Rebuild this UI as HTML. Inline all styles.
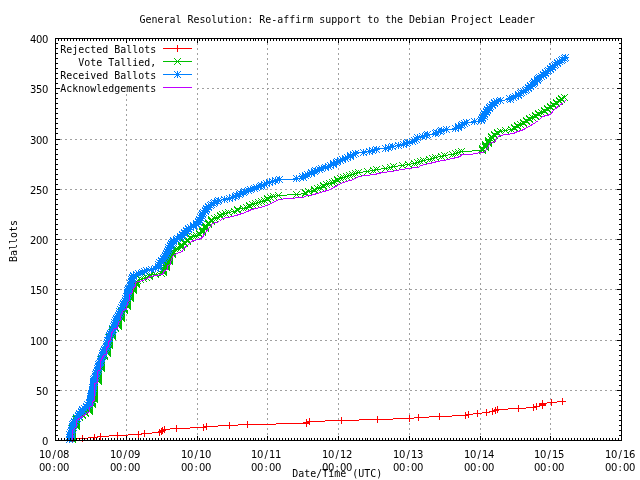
<!DOCTYPE html>
<html lang="en">
<head>
<meta charset="utf-8">
<title>General Resolution: Re-affirm support to the Debian Project Leader</title>
<style>
html,body{margin:0;padding:0;background:#fff;}
body{width:640px;height:480px;overflow:hidden;}
svg{display:block;}
text.n{font-family:'DejaVu Sans','Liberation Sans',sans-serif;}
</style>
</head>
<body>
<svg width="640" height="480" viewBox="0 0 640 480">
<rect width="640" height="480" fill="#fff"/>
<g stroke="#a0a0a0" stroke-width="1" shape-rendering="crispEdges" stroke-dasharray="2 3" fill="none">
<path d="M55 390.5H621"/>
<path d="M55 340.5H621"/>
<path d="M55 289.5H621"/>
<path d="M55 239.5H621"/>
<path d="M55 189.5H621"/>
<path d="M55 139.5H621"/>
<path d="M197 88.5H621"/>
<path d="M126.5 94V441"/>
<path d="M197.5 38V441"/>
<path d="M267.5 38V441"/>
<path d="M338.5 38V441"/>
<path d="M409.5 38V441"/>
<path d="M480.5 38V441"/>
<path d="M550.5 38V441"/>
</g>
<g fill="none" stroke-width="1" shape-rendering="crispEdges">
<path stroke="#ff0000" d="M72.5 439.5 L82.5 438.5 L94.5 437.5 L100.5 436.5 L117.5 435.5 L138.5 434.5 L144.5 433.5 L159.5 432.5 L161.5 431.5 L162.5 430.5 L164.5 429.5 L176.5 428.5 L203.5 427.5 L206.5 426.5 L229.5 425.5 L247.5 424.5 L306.5 423.5 L306.5 422.5 L309.5 421.5 L341.5 420.5 L377.5 419.5 L409.5 418.5 L418.5 417.5 L439.5 416.5 L465.5 415.5 L468.5 414.5 L477.5 413.5 L486.5 412.5 L492.5 411.5 L495.5 410.5 L497.5 409.5 L518.5 408.5 L533.5 407.5 L536.5 406.5 L542.5 405.5 L542.5 404.5 L542.5 403.5 L551.5 402.5 L562.5 401.5"/>
<path stroke="#ff0000" d="M69 439.5h7M72.5 436v7M79 438.5h7M82.5 435v7M91 437.5h7M94.5 434v7M97 436.5h7M100.5 433v7M114 435.5h7M117.5 432v7M135 434.5h7M138.5 431v7M141 433.5h7M144.5 430v7M156 432.5h7M159.5 429v7M158 431.5h7M161.5 428v7M159 430.5h7M162.5 427v7M161 429.5h7M164.5 426v7M173 428.5h7M176.5 425v7M200 427.5h7M203.5 424v7M203 426.5h7M206.5 423v7M226 425.5h7M229.5 422v7M244 424.5h7M247.5 421v7M303 423.5h7M306.5 420v7M303 422.5h7M306.5 419v7M306 421.5h7M309.5 418v7M338 420.5h7M341.5 417v7M374 419.5h7M377.5 416v7M406 418.5h7M409.5 415v7M415 417.5h7M418.5 414v7M436 416.5h7M439.5 413v7M462 415.5h7M465.5 412v7M465 414.5h7M468.5 411v7M474 413.5h7M477.5 410v7M483 412.5h7M486.5 409v7M489 411.5h7M492.5 408v7M492 410.5h7M495.5 407v7M494 409.5h7M497.5 406v7M515 408.5h7M518.5 405v7M530 407.5h7M533.5 404v7M533 406.5h7M536.5 403v7M539 405.5h7M542.5 402v7M539 404.5h7M542.5 401v7M539 403.5h7M542.5 400v7M548 402.5h7M551.5 399v7M559 401.5h7M562.5 398v7"/>
<path stroke="#00c000" d="M72.5 439.5 L72.5 438.5 L72.5 437.5 L72.5 436.5 L72.5 435.5 L72.5 434.5 L72.5 433.5 L72.5 432.5 L72.5 431.5 L72.5 430.5 L72.5 429.5 L72.5 428.5 L72.5 427.5 L76.5 426.5 L76.5 425.5 L76.5 424.5 L76.5 423.5 L76.5 422.5 L76.5 421.5 L76.5 420.5 L76.5 419.5 L76.5 418.5 L79.5 417.5 L79.5 416.5 L82.5 415.5 L82.5 414.5 L85.5 413.5 L85.5 412.5 L89.5 411.5 L89.5 410.5 L89.5 409.5 L89.5 408.5 L89.5 407.5 L89.5 406.5 L89.5 405.5 L92.5 404.5 L92.5 403.5 L92.5 402.5 L92.5 401.5 L92.5 400.5 L94.5 399.5 L94.5 398.5 L94.5 397.5 L94.5 396.5 L94.5 395.5 L94.5 394.5 L94.5 393.5 L94.5 392.5 L94.5 391.5 L94.5 390.5 L94.5 389.5 L94.5 388.5 L94.5 387.5 L94.5 386.5 L94.5 385.5 L94.5 384.5 L94.5 383.5 L94.5 382.5 L98.5 381.5 L98.5 380.5 L98.5 379.5 L98.5 378.5 L98.5 377.5 L98.5 376.5 L98.5 375.5 L98.5 374.5 L98.5 373.5 L98.5 372.5 L98.5 371.5 L98.5 370.5 L98.5 369.5 L101.5 368.5 L101.5 367.5 L101.5 366.5 L101.5 365.5 L101.5 364.5 L101.5 363.5 L101.5 362.5 L101.5 361.5 L101.5 360.5 L101.5 359.5 L101.5 358.5 L101.5 357.5 L104.5 356.5 L104.5 355.5 L104.5 354.5 L107.5 353.5 L107.5 352.5 L107.5 351.5 L107.5 350.5 L107.5 349.5 L107.5 348.5 L107.5 347.5 L107.5 346.5 L109.5 345.5 L109.5 344.5 L109.5 343.5 L109.5 342.5 L109.5 341.5 L109.5 340.5 L109.5 338.5 L109.5 337.5 L112.5 336.5 L112.5 335.5 L112.5 334.5 L112.5 333.5 L112.5 332.5 L112.5 331.5 L112.5 330.5 L112.5 329.5 L115.5 328.5 L115.5 327.5 L118.5 326.5 L118.5 325.5 L118.5 324.5 L118.5 323.5 L118.5 322.5 L118.5 321.5 L118.5 320.5 L118.5 319.5 L121.5 318.5 L121.5 317.5 L121.5 316.5 L121.5 315.5 L121.5 314.5 L121.5 313.5 L121.5 312.5 L121.5 311.5 L124.5 310.5 L124.5 309.5 L124.5 308.5 L124.5 307.5 L127.5 306.5 L127.5 305.5 L127.5 304.5 L127.5 303.5 L127.5 302.5 L127.5 301.5 L127.5 300.5 L127.5 299.5 L130.5 298.5 L130.5 297.5 L130.5 296.5 L130.5 295.5 L130.5 294.5 L130.5 293.5 L130.5 292.5 L130.5 291.5 L133.5 290.5 L133.5 289.5 L133.5 288.5 L133.5 287.5 L133.5 286.5 L133.5 285.5 L136.5 284.5 L136.5 283.5 L136.5 282.5 L136.5 281.5 L137.5 280.5 L140.5 279.5 L143.5 278.5 L146.5 277.5 L149.5 276.5 L149.5 275.5 L155.5 274.5 L161.5 273.5 L163.5 272.5 L163.5 271.5 L163.5 270.5 L163.5 269.5 L163.5 268.5 L166.5 267.5 L166.5 266.5 L166.5 265.5 L166.5 264.5 L166.5 263.5 L166.5 262.5 L169.5 261.5 L169.5 260.5 L169.5 259.5 L169.5 258.5 L169.5 257.5 L169.5 256.5 L169.5 255.5 L172.5 254.5 L172.5 253.5 L172.5 252.5 L172.5 251.5 L172.5 250.5 L175.5 249.5 L178.5 248.5 L181.5 247.5 L181.5 246.5 L181.5 245.5 L181.5 244.5 L184.5 243.5 L184.5 242.5 L187.5 241.5 L187.5 240.5 L187.5 239.5 L190.5 238.5 L190.5 237.5 L193.5 236.5 L196.5 235.5 L199.5 234.5 L199.5 233.5 L202.5 232.5 L202.5 231.5 L202.5 230.5 L202.5 229.5 L205.5 228.5 L205.5 227.5 L205.5 226.5 L205.5 225.5 L208.5 224.5 L208.5 223.5 L208.5 222.5 L211.5 221.5 L211.5 220.5 L211.5 219.5 L214.5 218.5 L217.5 217.5 L220.5 216.5 L220.5 215.5 L222.5 214.5 L225.5 213.5 L228.5 212.5 L234.5 211.5 L237.5 210.5 L237.5 209.5 L243.5 208.5 L246.5 207.5 L249.5 206.5 L249.5 205.5 L252.5 204.5 L255.5 203.5 L258.5 202.5 L261.5 201.5 L264.5 200.5 L267.5 199.5 L267.5 198.5 L270.5 197.5 L273.5 196.5 L278.5 195.5 L296.5 194.5 L305.5 193.5 L305.5 192.5 L308.5 191.5 L314.5 190.5 L314.5 189.5 L317.5 188.5 L320.5 187.5 L323.5 186.5 L323.5 185.5 L326.5 184.5 L329.5 183.5 L332.5 182.5 L334.5 181.5 L337.5 180.5 L337.5 179.5 L340.5 178.5 L343.5 177.5 L346.5 176.5 L349.5 175.5 L352.5 174.5 L355.5 173.5 L358.5 172.5 L367.5 171.5 L373.5 170.5 L376.5 169.5 L385.5 168.5 L390.5 167.5 L393.5 166.5 L402.5 165.5 L408.5 164.5 L414.5 163.5 L417.5 162.5 L420.5 161.5 L423.5 160.5 L429.5 159.5 L432.5 158.5 L435.5 157.5 L441.5 156.5 L444.5 155.5 L452.5 154.5 L455.5 153.5 L458.5 152.5 L461.5 151.5 L482.5 150.5 L482.5 149.5 L482.5 148.5 L485.5 147.5 L485.5 146.5 L485.5 145.5 L485.5 144.5 L488.5 143.5 L488.5 142.5 L488.5 141.5 L488.5 140.5 L491.5 139.5 L491.5 137.5 L491.5 136.5 L494.5 135.5 L494.5 134.5 L497.5 133.5 L497.5 132.5 L500.5 131.5 L505.5 130.5 L511.5 129.5 L514.5 128.5 L514.5 127.5 L517.5 126.5 L517.5 125.5 L520.5 124.5 L523.5 123.5 L523.5 122.5 L526.5 121.5 L526.5 120.5 L529.5 119.5 L529.5 118.5 L532.5 117.5 L535.5 116.5 L535.5 115.5 L538.5 114.5 L538.5 113.5 L541.5 112.5 L544.5 111.5 L544.5 110.5 L547.5 109.5 L547.5 108.5 L550.5 107.5 L550.5 106.5 L553.5 105.5 L553.5 104.5 L556.5 103.5 L556.5 102.5 L559.5 101.5 L559.5 100.5 L561.5 99.5 L561.5 98.5 L564.5 97.5"/>
<path stroke="#00c000" d="M69 436l7 7M69 443l7 -7M69 435l7 7M69 442l7 -7M69 434l7 7M69 441l7 -7M69 433l7 7M69 440l7 -7M69 432l7 7M69 439l7 -7M69 431l7 7M69 438l7 -7M69 430l7 7M69 437l7 -7M69 429l7 7M69 436l7 -7M69 428l7 7M69 435l7 -7M69 427l7 7M69 434l7 -7M69 426l7 7M69 433l7 -7M69 425l7 7M69 432l7 -7M69 424l7 7M69 431l7 -7M73 423l7 7M73 430l7 -7M73 422l7 7M73 429l7 -7M73 421l7 7M73 428l7 -7M73 420l7 7M73 427l7 -7M73 419l7 7M73 426l7 -7M73 418l7 7M73 425l7 -7M73 417l7 7M73 424l7 -7M73 416l7 7M73 423l7 -7M73 415l7 7M73 422l7 -7M76 414l7 7M76 421l7 -7M76 413l7 7M76 420l7 -7M79 412l7 7M79 419l7 -7M79 411l7 7M79 418l7 -7M82 410l7 7M82 417l7 -7M82 409l7 7M82 416l7 -7M86 408l7 7M86 415l7 -7M86 407l7 7M86 414l7 -7M86 406l7 7M86 413l7 -7M86 405l7 7M86 412l7 -7M86 404l7 7M86 411l7 -7M86 403l7 7M86 410l7 -7M86 402l7 7M86 409l7 -7M89 401l7 7M89 408l7 -7M89 400l7 7M89 407l7 -7M89 399l7 7M89 406l7 -7M89 398l7 7M89 405l7 -7M89 397l7 7M89 404l7 -7M91 396l7 7M91 403l7 -7M91 395l7 7M91 402l7 -7M91 394l7 7M91 401l7 -7M91 393l7 7M91 400l7 -7M91 392l7 7M91 399l7 -7M91 391l7 7M91 398l7 -7M91 390l7 7M91 397l7 -7M91 389l7 7M91 396l7 -7M91 388l7 7M91 395l7 -7M91 387l7 7M91 394l7 -7M91 386l7 7M91 393l7 -7M91 385l7 7M91 392l7 -7M91 384l7 7M91 391l7 -7M91 383l7 7M91 390l7 -7M91 382l7 7M91 389l7 -7M91 381l7 7M91 388l7 -7M91 380l7 7M91 387l7 -7M91 379l7 7M91 386l7 -7M95 378l7 7M95 385l7 -7M95 377l7 7M95 384l7 -7M95 376l7 7M95 383l7 -7M95 375l7 7M95 382l7 -7M95 374l7 7M95 381l7 -7M95 373l7 7M95 380l7 -7M95 372l7 7M95 379l7 -7M95 371l7 7M95 378l7 -7M95 370l7 7M95 377l7 -7M95 369l7 7M95 376l7 -7M95 368l7 7M95 375l7 -7M95 367l7 7M95 374l7 -7M95 366l7 7M95 373l7 -7M98 365l7 7M98 372l7 -7M98 364l7 7M98 371l7 -7M98 363l7 7M98 370l7 -7M98 362l7 7M98 369l7 -7M98 361l7 7M98 368l7 -7M98 360l7 7M98 367l7 -7M98 359l7 7M98 366l7 -7M98 358l7 7M98 365l7 -7M98 357l7 7M98 364l7 -7M98 356l7 7M98 363l7 -7M98 355l7 7M98 362l7 -7M98 354l7 7M98 361l7 -7M101 353l7 7M101 360l7 -7M101 352l7 7M101 359l7 -7M101 351l7 7M101 358l7 -7M104 350l7 7M104 357l7 -7M104 349l7 7M104 356l7 -7M104 348l7 7M104 355l7 -7M104 347l7 7M104 354l7 -7M104 346l7 7M104 353l7 -7M104 345l7 7M104 352l7 -7M104 344l7 7M104 351l7 -7M104 343l7 7M104 350l7 -7M106 342l7 7M106 349l7 -7M106 341l7 7M106 348l7 -7M106 340l7 7M106 347l7 -7M106 339l7 7M106 346l7 -7M106 338l7 7M106 345l7 -7M106 337l7 7M106 344l7 -7M106 335l7 7M106 342l7 -7M106 334l7 7M106 341l7 -7M109 333l7 7M109 340l7 -7M109 332l7 7M109 339l7 -7M109 331l7 7M109 338l7 -7M109 330l7 7M109 337l7 -7M109 329l7 7M109 336l7 -7M109 328l7 7M109 335l7 -7M109 327l7 7M109 334l7 -7M109 326l7 7M109 333l7 -7M112 325l7 7M112 332l7 -7M112 324l7 7M112 331l7 -7M115 323l7 7M115 330l7 -7M115 322l7 7M115 329l7 -7M115 321l7 7M115 328l7 -7M115 320l7 7M115 327l7 -7M115 319l7 7M115 326l7 -7M115 318l7 7M115 325l7 -7M115 317l7 7M115 324l7 -7M115 316l7 7M115 323l7 -7M118 315l7 7M118 322l7 -7M118 314l7 7M118 321l7 -7M118 313l7 7M118 320l7 -7M118 312l7 7M118 319l7 -7M118 311l7 7M118 318l7 -7M118 310l7 7M118 317l7 -7M118 309l7 7M118 316l7 -7M118 308l7 7M118 315l7 -7M121 307l7 7M121 314l7 -7M121 306l7 7M121 313l7 -7M121 305l7 7M121 312l7 -7M121 304l7 7M121 311l7 -7M124 303l7 7M124 310l7 -7M124 302l7 7M124 309l7 -7M124 301l7 7M124 308l7 -7M124 300l7 7M124 307l7 -7M124 299l7 7M124 306l7 -7M124 298l7 7M124 305l7 -7M124 297l7 7M124 304l7 -7M124 296l7 7M124 303l7 -7M127 295l7 7M127 302l7 -7M127 294l7 7M127 301l7 -7M127 293l7 7M127 300l7 -7M127 292l7 7M127 299l7 -7M127 291l7 7M127 298l7 -7M127 290l7 7M127 297l7 -7M127 289l7 7M127 296l7 -7M127 288l7 7M127 295l7 -7M130 287l7 7M130 294l7 -7M130 286l7 7M130 293l7 -7M130 285l7 7M130 292l7 -7M130 284l7 7M130 291l7 -7M130 283l7 7M130 290l7 -7M130 282l7 7M130 289l7 -7M133 281l7 7M133 288l7 -7M133 280l7 7M133 287l7 -7M133 279l7 7M133 286l7 -7M133 278l7 7M133 285l7 -7M134 277l7 7M134 284l7 -7M137 276l7 7M137 283l7 -7M140 275l7 7M140 282l7 -7M143 274l7 7M143 281l7 -7M146 273l7 7M146 280l7 -7M146 272l7 7M146 279l7 -7M152 271l7 7M152 278l7 -7M158 270l7 7M158 277l7 -7M160 269l7 7M160 276l7 -7M160 268l7 7M160 275l7 -7M160 267l7 7M160 274l7 -7M160 266l7 7M160 273l7 -7M160 265l7 7M160 272l7 -7M163 264l7 7M163 271l7 -7M163 263l7 7M163 270l7 -7M163 262l7 7M163 269l7 -7M163 261l7 7M163 268l7 -7M163 260l7 7M163 267l7 -7M163 259l7 7M163 266l7 -7M166 258l7 7M166 265l7 -7M166 257l7 7M166 264l7 -7M166 256l7 7M166 263l7 -7M166 255l7 7M166 262l7 -7M166 254l7 7M166 261l7 -7M166 253l7 7M166 260l7 -7M166 252l7 7M166 259l7 -7M169 251l7 7M169 258l7 -7M169 250l7 7M169 257l7 -7M169 249l7 7M169 256l7 -7M169 248l7 7M169 255l7 -7M169 247l7 7M169 254l7 -7M172 246l7 7M172 253l7 -7M175 245l7 7M175 252l7 -7M178 244l7 7M178 251l7 -7M178 243l7 7M178 250l7 -7M178 242l7 7M178 249l7 -7M178 241l7 7M178 248l7 -7M181 240l7 7M181 247l7 -7M181 239l7 7M181 246l7 -7M184 238l7 7M184 245l7 -7M184 237l7 7M184 244l7 -7M184 236l7 7M184 243l7 -7M187 235l7 7M187 242l7 -7M187 234l7 7M187 241l7 -7M190 233l7 7M190 240l7 -7M193 232l7 7M193 239l7 -7M196 231l7 7M196 238l7 -7M196 230l7 7M196 237l7 -7M199 229l7 7M199 236l7 -7M199 228l7 7M199 235l7 -7M199 227l7 7M199 234l7 -7M199 226l7 7M199 233l7 -7M202 225l7 7M202 232l7 -7M202 224l7 7M202 231l7 -7M202 223l7 7M202 230l7 -7M202 222l7 7M202 229l7 -7M205 221l7 7M205 228l7 -7M205 220l7 7M205 227l7 -7M205 219l7 7M205 226l7 -7M208 218l7 7M208 225l7 -7M208 217l7 7M208 224l7 -7M208 216l7 7M208 223l7 -7M211 215l7 7M211 222l7 -7M214 214l7 7M214 221l7 -7M217 213l7 7M217 220l7 -7M217 212l7 7M217 219l7 -7M219 211l7 7M219 218l7 -7M222 210l7 7M222 217l7 -7M225 209l7 7M225 216l7 -7M231 208l7 7M231 215l7 -7M234 207l7 7M234 214l7 -7M234 206l7 7M234 213l7 -7M240 205l7 7M240 212l7 -7M243 204l7 7M243 211l7 -7M246 203l7 7M246 210l7 -7M246 202l7 7M246 209l7 -7M249 201l7 7M249 208l7 -7M252 200l7 7M252 207l7 -7M255 199l7 7M255 206l7 -7M258 198l7 7M258 205l7 -7M261 197l7 7M261 204l7 -7M264 196l7 7M264 203l7 -7M264 195l7 7M264 202l7 -7M267 194l7 7M267 201l7 -7M270 193l7 7M270 200l7 -7M275 192l7 7M275 199l7 -7M293 191l7 7M293 198l7 -7M302 190l7 7M302 197l7 -7M302 189l7 7M302 196l7 -7M305 188l7 7M305 195l7 -7M311 187l7 7M311 194l7 -7M311 186l7 7M311 193l7 -7M314 185l7 7M314 192l7 -7M317 184l7 7M317 191l7 -7M320 183l7 7M320 190l7 -7M320 182l7 7M320 189l7 -7M323 181l7 7M323 188l7 -7M326 180l7 7M326 187l7 -7M329 179l7 7M329 186l7 -7M331 178l7 7M331 185l7 -7M334 177l7 7M334 184l7 -7M334 176l7 7M334 183l7 -7M337 175l7 7M337 182l7 -7M340 174l7 7M340 181l7 -7M343 173l7 7M343 180l7 -7M346 172l7 7M346 179l7 -7M349 171l7 7M349 178l7 -7M352 170l7 7M352 177l7 -7M355 169l7 7M355 176l7 -7M364 168l7 7M364 175l7 -7M370 167l7 7M370 174l7 -7M373 166l7 7M373 173l7 -7M382 165l7 7M382 172l7 -7M387 164l7 7M387 171l7 -7M390 163l7 7M390 170l7 -7M399 162l7 7M399 169l7 -7M405 161l7 7M405 168l7 -7M411 160l7 7M411 167l7 -7M414 159l7 7M414 166l7 -7M417 158l7 7M417 165l7 -7M420 157l7 7M420 164l7 -7M426 156l7 7M426 163l7 -7M429 155l7 7M429 162l7 -7M432 154l7 7M432 161l7 -7M438 153l7 7M438 160l7 -7M441 152l7 7M441 159l7 -7M449 151l7 7M449 158l7 -7M452 150l7 7M452 157l7 -7M455 149l7 7M455 156l7 -7M458 148l7 7M458 155l7 -7M479 147l7 7M479 154l7 -7M479 146l7 7M479 153l7 -7M479 145l7 7M479 152l7 -7M482 144l7 7M482 151l7 -7M482 143l7 7M482 150l7 -7M482 142l7 7M482 149l7 -7M482 141l7 7M482 148l7 -7M485 140l7 7M485 147l7 -7M485 139l7 7M485 146l7 -7M485 138l7 7M485 145l7 -7M485 137l7 7M485 144l7 -7M488 136l7 7M488 143l7 -7M488 134l7 7M488 141l7 -7M488 133l7 7M488 140l7 -7M491 132l7 7M491 139l7 -7M491 131l7 7M491 138l7 -7M494 130l7 7M494 137l7 -7M494 129l7 7M494 136l7 -7M497 128l7 7M497 135l7 -7M502 127l7 7M502 134l7 -7M508 126l7 7M508 133l7 -7M511 125l7 7M511 132l7 -7M511 124l7 7M511 131l7 -7M514 123l7 7M514 130l7 -7M514 122l7 7M514 129l7 -7M517 121l7 7M517 128l7 -7M520 120l7 7M520 127l7 -7M520 119l7 7M520 126l7 -7M523 118l7 7M523 125l7 -7M523 117l7 7M523 124l7 -7M526 116l7 7M526 123l7 -7M526 115l7 7M526 122l7 -7M529 114l7 7M529 121l7 -7M532 113l7 7M532 120l7 -7M532 112l7 7M532 119l7 -7M535 111l7 7M535 118l7 -7M535 110l7 7M535 117l7 -7M538 109l7 7M538 116l7 -7M541 108l7 7M541 115l7 -7M541 107l7 7M541 114l7 -7M544 106l7 7M544 113l7 -7M544 105l7 7M544 112l7 -7M547 104l7 7M547 111l7 -7M547 103l7 7M547 110l7 -7M550 102l7 7M550 109l7 -7M550 101l7 7M550 108l7 -7M553 100l7 7M553 107l7 -7M553 99l7 7M553 106l7 -7M556 98l7 7M556 105l7 -7M556 97l7 7M556 104l7 -7M558 96l7 7M558 103l7 -7M558 95l7 7M558 102l7 -7M561 94l7 7M561 101l7 -7"/>
<path stroke="#0080ff" d="M70.5 440.5 L70.5 433.5 L72.5 428.5 L74.5 422.5 L76.5 418.5 L79.5 414.5 L82.5 410.5 L86.5 406.5 L89.5 402.5 L91.5 400.5 L92.5 390.5 L93.5 387.5 L94.5 379.5 L95.5 374.5 L97.5 370.5 L100.5 359.5 L105.5 348.5 L108.5 340.5 L116.5 320.5 L125.5 300.5 L130.5 283.5 L133.5 276.5 L141.5 273.5 L147.5 270.5 L153.5 269.5 L157.5 268.5 L159.5 264.5 L161.5 261.5 L164.5 258.5 L169.5 246.5 L173.5 240.5 L178.5 238.5 L182.5 234.5 L189.5 228.5 L196.5 223.5 L200.5 218.5 L204.5 211.5 L207.5 208.5 L209.5 205.5 L213.5 202.5 L219.5 200.5 L225.5 199.5 L230.5 198.5 L236.5 195.5 L241.5 192.5 L247.5 190.5 L255.5 188.5 L261.5 185.5 L266.5 183.5 L272.5 180.5 L279.5 179.5 L296.5 179.5 L296.5 178.5 L301.5 178.5 L302.5 176.5 L306.5 174.5 L310.5 173.5 L314.5 170.5 L320.5 168.5 L325.5 167.5 L331.5 164.5 L336.5 161.5 L342.5 159.5 L346.5 157.5 L351.5 154.5 L356.5 152.5 L360.5 152.5 L367.5 151.5 L369.5 151.5 L378.5 148.5 L385.5 148.5 L386.5 147.5 L398.5 145.5 L401.5 144.5 L403.5 144.5 L408.5 141.5 L414.5 140.5 L419.5 137.5 L423.5 136.5 L426.5 135.5 L430.5 134.5 L434.5 134.5 L437.5 132.5 L443.5 130.5 L447.5 129.5 L453.5 129.5 L456.5 128.5 L460.5 125.5 L465.5 123.5 L468.5 122.5 L472.5 122.5 L474.5 121.5 L480.5 121.5 L481.5 120.5 L485.5 113.5 L490.5 107.5 L495.5 101.5 L500.5 100.5 L501.5 100.5 L509.5 99.5 L510.5 98.5 L515.5 97.5 L520.5 94.5 L525.5 90.5 L530.5 86.5 L535.5 82.5 L540.5 77.5 L545.5 73.5 L550.5 69.5 L555.5 65.5 L560.5 61.5 L565.5 57.5"/>
<path stroke="#0080ff" d="M66 439.5h7M69.5 436v7M66 436l7 7M66 443l7 -7M67 438.5h7M70.5 435v7M67 435l7 7M67 442l7 -7M68 437.5h7M71.5 434v7M68 434l7 7M68 441l7 -7M67 436.5h7M70.5 433v7M67 433l7 7M67 440l7 -7M68 435.5h7M71.5 432v7M68 432l7 7M68 439l7 -7M66 434.5h7M69.5 431v7M66 431l7 7M66 438l7 -7M68 433.5h7M71.5 430v7M68 430l7 7M68 437l7 -7M67 432.5h7M70.5 429v7M67 429l7 7M67 436l7 -7M68 431.5h7M71.5 428v7M68 428l7 7M68 435l7 -7M68 430.5h7M71.5 427v7M68 427l7 7M68 434l7 -7M69 429.5h7M72.5 426v7M69 426l7 7M69 433l7 -7M68 428.5h7M71.5 425v7M68 425l7 7M68 432l7 -7M70 427.5h7M73.5 424v7M70 424l7 7M70 431l7 -7M69 426.5h7M72.5 423v7M69 423l7 7M69 430l7 -7M70 425.5h7M73.5 422v7M70 422l7 7M70 429l7 -7M69 424.5h7M72.5 421v7M69 421l7 7M69 428l7 -7M70 423.5h7M73.5 420v7M70 420l7 7M70 427l7 -7M71 422.5h7M74.5 419v7M71 419l7 7M71 426l7 -7M71 421.5h7M74.5 418v7M71 418l7 7M71 425l7 -7M73 420.5h7M76.5 417v7M73 417l7 7M73 424l7 -7M72 419.5h7M75.5 416v7M72 416l7 7M72 423l7 -7M74 418.5h7M77.5 415v7M74 415l7 7M74 422l7 -7M73 417.5h7M76.5 414v7M73 414l7 7M73 421l7 -7M75 416.5h7M78.5 413v7M75 413l7 7M75 420l7 -7M75 415.5h7M78.5 412v7M75 412l7 7M75 419l7 -7M76 414.5h7M79.5 411v7M76 411l7 7M76 418l7 -7M76 413.5h7M79.5 410v7M76 410l7 7M76 417l7 -7M78 412.5h7M81.5 409v7M78 409l7 7M78 416l7 -7M78 411.5h7M81.5 408v7M78 408l7 7M78 415l7 -7M79 410.5h7M82.5 407v7M79 407l7 7M79 414l7 -7M79 409.5h7M82.5 406v7M79 406l7 7M79 413l7 -7M81 408.5h7M84.5 405v7M81 405l7 7M81 412l7 -7M83 407.5h7M86.5 404v7M83 404l7 7M83 411l7 -7M83 406.5h7M86.5 403v7M83 403l7 7M83 410l7 -7M85 405.5h7M88.5 402v7M85 402l7 7M85 409l7 -7M84 404.5h7M87.5 401v7M84 401l7 7M84 408l7 -7M86 403.5h7M89.5 400v7M86 400l7 7M86 407l7 -7M86 402.5h7M89.5 399v7M86 399l7 7M86 406l7 -7M87 401.5h7M90.5 398v7M87 398l7 7M87 405l7 -7M87 400.5h7M90.5 397v7M87 397l7 7M87 404l7 -7M88 399.5h7M91.5 396v7M88 396l7 7M88 403l7 -7M87 398.5h7M90.5 395v7M87 395l7 7M87 402l7 -7M88 397.5h7M91.5 394v7M88 394l7 7M88 401l7 -7M87 396.5h7M90.5 393v7M87 393l7 7M87 400l7 -7M88 395.5h7M91.5 392v7M88 392l7 7M88 399l7 -7M88 394.5h7M91.5 391v7M88 391l7 7M88 398l7 -7M88 393.5h7M91.5 390v7M88 390l7 7M88 397l7 -7M89 392.5h7M92.5 389v7M89 389l7 7M89 396l7 -7M89 391.5h7M92.5 388v7M89 388l7 7M89 395l7 -7M89 390.5h7M92.5 387v7M89 387l7 7M89 394l7 -7M89 389.5h7M92.5 386v7M89 386l7 7M89 393l7 -7M90 388.5h7M93.5 385v7M90 385l7 7M90 392l7 -7M89 387.5h7M92.5 384v7M89 384l7 7M89 391l7 -7M90 386.5h7M93.5 383v7M90 383l7 7M90 390l7 -7M90 385.5h7M93.5 382v7M90 382l7 7M90 389l7 -7M90 384.5h7M93.5 381v7M90 381l7 7M90 388l7 -7M90 383.5h7M93.5 380v7M90 380l7 7M90 387l7 -7M91 382.5h7M94.5 379v7M91 379l7 7M91 386l7 -7M90 381.5h7M93.5 378v7M90 378l7 7M90 385l7 -7M91 380.5h7M94.5 377v7M91 377l7 7M91 384l7 -7M90 379.5h7M93.5 376v7M90 376l7 7M90 383l7 -7M91 378.5h7M94.5 375v7M91 375l7 7M91 382l7 -7M92 377.5h7M95.5 374v7M92 374l7 7M92 381l7 -7M92 376.5h7M95.5 373v7M92 373l7 7M92 380l7 -7M93 375.5h7M96.5 372v7M93 372l7 7M93 379l7 -7M92 374.5h7M95.5 371v7M92 371l7 7M92 378l7 -7M93 373.5h7M96.5 370v7M93 370l7 7M93 377l7 -7M93 372.5h7M96.5 369v7M93 369l7 7M93 376l7 -7M94 371.5h7M97.5 368v7M94 368l7 7M94 375l7 -7M94 370.5h7M97.5 367v7M94 367l7 7M94 374l7 -7M95 369.5h7M98.5 366v7M95 366l7 7M95 373l7 -7M94 368.5h7M97.5 365v7M94 365l7 7M94 372l7 -7M95 367.5h7M98.5 364v7M95 364l7 7M95 371l7 -7M95 366.5h7M98.5 363v7M95 363l7 7M95 370l7 -7M96 365.5h7M99.5 362v7M96 362l7 7M96 369l7 -7M95 364.5h7M98.5 361v7M95 361l7 7M95 368l7 -7M96 363.5h7M99.5 360v7M96 360l7 7M96 367l7 -7M97 362.5h7M100.5 359v7M97 359l7 7M97 366l7 -7M97 361.5h7M100.5 358v7M97 358l7 7M97 365l7 -7M98 360.5h7M101.5 357v7M98 357l7 7M98 364l7 -7M97 359.5h7M100.5 356v7M97 356l7 7M97 363l7 -7M98 358.5h7M101.5 355v7M98 355l7 7M98 362l7 -7M98 357.5h7M101.5 354v7M98 354l7 7M98 361l7 -7M99 356.5h7M102.5 353v7M99 353l7 7M99 360l7 -7M99 355.5h7M102.5 352v7M99 352l7 7M99 359l7 -7M100 354.5h7M103.5 351v7M100 351l7 7M100 358l7 -7M99 353.5h7M102.5 350v7M99 350l7 7M99 357l7 -7M100 352.5h7M103.5 349v7M100 349l7 7M100 356l7 -7M100 351.5h7M103.5 348v7M100 348l7 7M100 355l7 -7M101 350.5h7M104.5 347v7M101 347l7 7M101 354l7 -7M101 349.5h7M104.5 346v7M101 346l7 7M101 353l7 -7M102 348.5h7M105.5 345v7M102 345l7 7M102 352l7 -7M103 347.5h7M106.5 344v7M103 344l7 7M103 351l7 -7M103 346.5h7M106.5 343v7M103 343l7 7M103 350l7 -7M104 345.5h7M107.5 342v7M104 342l7 7M104 349l7 -7M103 344.5h7M106.5 341v7M103 341l7 7M103 348l7 -7M104 343.5h7M107.5 340v7M104 340l7 7M104 347l7 -7M104 342.5h7M107.5 339v7M104 339l7 7M104 346l7 -7M105 341.5h7M108.5 338v7M105 338l7 7M105 345l7 -7M104 340.5h7M107.5 337v7M104 337l7 7M104 344l7 -7M106 338.5h7M109.5 335v7M106 335l7 7M106 342l7 -7M105 337.5h7M108.5 334v7M105 334l7 7M105 341l7 -7M106 336.5h7M109.5 333v7M106 333l7 7M106 340l7 -7M106 335.5h7M109.5 332v7M106 332l7 7M106 339l7 -7M107 334.5h7M110.5 331v7M107 331l7 7M107 338l7 -7M107 333.5h7M110.5 330v7M107 330l7 7M107 337l7 -7M108 332.5h7M111.5 329v7M108 329l7 7M108 336l7 -7M109 331.5h7M112.5 328v7M109 328l7 7M109 335l7 -7M109 330.5h7M112.5 327v7M109 327l7 7M109 334l7 -7M110 329.5h7M113.5 326v7M110 326l7 7M110 333l7 -7M109 328.5h7M112.5 325v7M109 325l7 7M109 332l7 -7M111 327.5h7M114.5 324v7M111 324l7 7M111 331l7 -7M110 326.5h7M113.5 323v7M110 323l7 7M110 330l7 -7M111 325.5h7M114.5 322v7M111 322l7 7M111 329l7 -7M111 324.5h7M114.5 321v7M111 321l7 7M111 328l7 -7M112 323.5h7M115.5 320v7M112 320l7 7M112 327l7 -7M111 322.5h7M114.5 319v7M111 319l7 7M111 326l7 -7M113 321.5h7M116.5 318v7M113 318l7 7M113 325l7 -7M112 320.5h7M115.5 317v7M112 317l7 7M112 324l7 -7M113 319.5h7M116.5 316v7M113 316l7 7M113 323l7 -7M113 318.5h7M116.5 315v7M113 315l7 7M113 322l7 -7M114 317.5h7M117.5 314v7M114 314l7 7M114 321l7 -7M115 316.5h7M118.5 313v7M115 313l7 7M115 320l7 -7M115 315.5h7M118.5 312v7M115 312l7 7M115 319l7 -7M116 314.5h7M119.5 311v7M116 311l7 7M116 318l7 -7M116 313.5h7M119.5 310v7M116 310l7 7M116 317l7 -7M117 312.5h7M120.5 309v7M117 309l7 7M117 316l7 -7M116 311.5h7M119.5 308v7M116 308l7 7M116 315l7 -7M118 310.5h7M121.5 307v7M118 307l7 7M118 314l7 -7M117 309.5h7M120.5 306v7M117 306l7 7M117 313l7 -7M119 308.5h7M122.5 305v7M119 305l7 7M119 312l7 -7M118 307.5h7M121.5 304v7M118 304l7 7M118 311l7 -7M120 306.5h7M123.5 303v7M120 303l7 7M120 310l7 -7M119 305.5h7M122.5 302v7M119 302l7 7M119 309l7 -7M120 304.5h7M123.5 301v7M120 301l7 7M120 308l7 -7M120 303.5h7M123.5 300v7M120 300l7 7M120 307l7 -7M121 302.5h7M124.5 299v7M121 299l7 7M121 306l7 -7M122 301.5h7M125.5 298v7M122 298l7 7M122 305l7 -7M122 300.5h7M125.5 297v7M122 297l7 7M122 304l7 -7M123 299.5h7M126.5 296v7M123 296l7 7M123 303l7 -7M122 298.5h7M125.5 295v7M122 295l7 7M122 302l7 -7M124 297.5h7M127.5 294v7M124 294l7 7M124 301l7 -7M123 296.5h7M126.5 293v7M123 293l7 7M123 300l7 -7M124 295.5h7M127.5 292v7M124 292l7 7M124 299l7 -7M124 294.5h7M127.5 291v7M124 291l7 7M124 298l7 -7M125 293.5h7M128.5 290v7M125 290l7 7M125 297l7 -7M124 292.5h7M127.5 289v7M124 289l7 7M124 296l7 -7M125 291.5h7M128.5 288v7M125 288l7 7M125 295l7 -7M124 290.5h7M127.5 287v7M124 287l7 7M124 294l7 -7M125 289.5h7M128.5 286v7M125 286l7 7M125 293l7 -7M125 288.5h7M128.5 285v7M125 285l7 7M125 292l7 -7M126 287.5h7M129.5 284v7M126 284l7 7M126 291l7 -7M127 286.5h7M130.5 283v7M127 283l7 7M127 290l7 -7M127 285.5h7M130.5 282v7M127 282l7 7M127 289l7 -7M128 284.5h7M131.5 281v7M128 281l7 7M128 288l7 -7M127 283.5h7M130.5 280v7M127 280l7 7M127 287l7 -7M128 282.5h7M131.5 279v7M128 279l7 7M128 286l7 -7M128 281.5h7M131.5 278v7M128 278l7 7M128 285l7 -7M129 280.5h7M132.5 277v7M129 277l7 7M129 284l7 -7M128 279.5h7M131.5 276v7M128 276l7 7M128 283l7 -7M129 278.5h7M132.5 275v7M129 275l7 7M129 282l7 -7M129 277.5h7M132.5 274v7M129 274l7 7M129 281l7 -7M130 276.5h7M133.5 273v7M130 273l7 7M130 280l7 -7M130 275.5h7M133.5 272v7M130 272l7 7M130 279l7 -7M133 274.5h7M136.5 271v7M133 271l7 7M133 278l7 -7M135 273.5h7M138.5 270v7M135 270l7 7M135 277l7 -7M139 272.5h7M142.5 269v7M139 269l7 7M139 276l7 -7M141 271.5h7M144.5 268v7M141 268l7 7M141 275l7 -7M143 270.5h7M146.5 267v7M143 267l7 7M143 274l7 -7M148 269.5h7M151.5 266v7M148 266l7 7M148 273l7 -7M152 268.5h7M155.5 265v7M152 265l7 7M152 272l7 -7M155 267.5h7M158.5 264v7M155 264l7 7M155 271l7 -7M155 266.5h7M158.5 263v7M155 263l7 7M155 270l7 -7M156 265.5h7M159.5 262v7M156 262l7 7M156 269l7 -7M155 264.5h7M158.5 261v7M155 261l7 7M155 268l7 -7M157 263.5h7M160.5 260v7M157 260l7 7M157 267l7 -7M156 262.5h7M159.5 259v7M156 259l7 7M156 266l7 -7M158 261.5h7M161.5 258v7M158 258l7 7M158 265l7 -7M158 260.5h7M161.5 257v7M158 257l7 7M158 264l7 -7M160 259.5h7M163.5 256v7M160 256l7 7M160 263l7 -7M160 258.5h7M163.5 255v7M160 255l7 7M160 262l7 -7M161 257.5h7M164.5 254v7M161 254l7 7M161 261l7 -7M162 256.5h7M165.5 253v7M162 253l7 7M162 260l7 -7M162 255.5h7M165.5 252v7M162 252l7 7M162 259l7 -7M163 254.5h7M166.5 251v7M163 251l7 7M163 258l7 -7M163 253.5h7M166.5 250v7M163 250l7 7M163 257l7 -7M164 252.5h7M167.5 249v7M164 249l7 7M164 256l7 -7M164 251.5h7M167.5 248v7M164 248l7 7M164 255l7 -7M165 250.5h7M168.5 247v7M165 247l7 7M165 254l7 -7M165 249.5h7M168.5 246v7M165 246l7 7M165 253l7 -7M166 248.5h7M169.5 245v7M166 245l7 7M166 252l7 -7M165 247.5h7M168.5 244v7M165 244l7 7M165 251l7 -7M167 246.5h7M170.5 243v7M167 243l7 7M167 250l7 -7M167 245.5h7M170.5 242v7M167 242l7 7M167 249l7 -7M168 244.5h7M171.5 241v7M168 241l7 7M168 248l7 -7M168 243.5h7M171.5 240v7M168 240l7 7M168 247l7 -7M169 242.5h7M172.5 239v7M169 239l7 7M169 246l7 -7M170 241.5h7M173.5 238v7M170 238l7 7M170 245l7 -7M170 240.5h7M173.5 237v7M170 237l7 7M170 244l7 -7M173 239.5h7M176.5 236v7M173 236l7 7M173 243l7 -7M174 238.5h7M177.5 235v7M174 235l7 7M174 242l7 -7M177 237.5h7M180.5 234v7M177 234l7 7M177 241l7 -7M177 236.5h7M180.5 233v7M177 233l7 7M177 240l7 -7M179 235.5h7M182.5 232v7M179 232l7 7M179 239l7 -7M179 234.5h7M182.5 231v7M179 231l7 7M179 238l7 -7M181 233.5h7M184.5 230v7M181 230l7 7M181 237l7 -7M181 232.5h7M184.5 229v7M181 229l7 7M181 236l7 -7M183 231.5h7M186.5 228v7M183 228l7 7M183 235l7 -7M183 230.5h7M186.5 227v7M183 227l7 7M183 234l7 -7M185 229.5h7M188.5 226v7M185 226l7 7M185 233l7 -7M185 228.5h7M188.5 225v7M185 225l7 7M185 232l7 -7M187 227.5h7M190.5 224v7M187 224l7 7M187 231l7 -7M190 226.5h7M193.5 223v7M190 223l7 7M190 230l7 -7M190 225.5h7M193.5 222v7M190 222l7 7M190 229l7 -7M193 224.5h7M196.5 221v7M193 221l7 7M193 228l7 -7M193 223.5h7M196.5 220v7M193 220l7 7M193 227l7 -7M195 222.5h7M198.5 219v7M195 219l7 7M195 226l7 -7M195 221.5h7M198.5 218v7M195 218l7 7M195 225l7 -7M196 220.5h7M199.5 217v7M196 217l7 7M196 224l7 -7M196 219.5h7M199.5 216v7M196 216l7 7M196 223l7 -7M198 218.5h7M201.5 215v7M198 215l7 7M198 222l7 -7M197 217.5h7M200.5 214v7M197 214l7 7M197 221l7 -7M199 216.5h7M202.5 213v7M199 213l7 7M199 220l7 -7M198 215.5h7M201.5 212v7M198 212l7 7M198 219l7 -7M199 214.5h7M202.5 211v7M199 211l7 7M199 218l7 -7M199 213.5h7M202.5 210v7M199 210l7 7M199 217l7 -7M200 212.5h7M203.5 209v7M200 209l7 7M200 216l7 -7M202 211.5h7M205.5 208v7M202 208l7 7M202 215l7 -7M202 210.5h7M205.5 207v7M202 207l7 7M202 214l7 -7M203 209.5h7M206.5 206v7M203 206l7 7M203 213l7 -7M203 208.5h7M206.5 205v7M203 205l7 7M203 212l7 -7M205 207.5h7M208.5 204v7M205 204l7 7M205 211l7 -7M205 206.5h7M208.5 203v7M205 203l7 7M205 210l7 -7M207 205.5h7M210.5 202v7M207 202l7 7M207 209l7 -7M208 204.5h7M211.5 201v7M208 201l7 7M208 208l7 -7M210 203.5h7M213.5 200v7M210 200l7 7M210 207l7 -7M211 202.5h7M214.5 199v7M211 199l7 7M211 206l7 -7M214 201.5h7M217.5 198v7M214 198l7 7M214 205l7 -7M215 200.5h7M218.5 197v7M215 197l7 7M215 204l7 -7M221 199.5h7M224.5 196v7M221 196l7 7M221 203l7 -7M226 198.5h7M229.5 195v7M226 195l7 7M226 202l7 -7M229 197.5h7M232.5 194v7M229 194l7 7M229 201l7 -7M232 196.5h7M235.5 193v7M232 193l7 7M232 200l7 -7M233 195.5h7M236.5 192v7M233 192l7 7M233 199l7 -7M236 194.5h7M239.5 191v7M236 191l7 7M236 198l7 -7M237 193.5h7M240.5 190v7M237 190l7 7M237 197l7 -7M240 192.5h7M243.5 189v7M240 189l7 7M240 196l7 -7M241 191.5h7M244.5 188v7M241 188l7 7M241 195l7 -7M245 190.5h7M248.5 187v7M245 187l7 7M245 194l7 -7M247 189.5h7M250.5 186v7M247 186l7 7M247 193l7 -7M251 188.5h7M254.5 185v7M251 185l7 7M251 192l7 -7M253 187.5h7M256.5 184v7M253 184l7 7M253 191l7 -7M257 186.5h7M260.5 183v7M257 183l7 7M257 190l7 -7M258 185.5h7M261.5 182v7M258 182l7 7M258 189l7 -7M261 184.5h7M264.5 181v7M261 181l7 7M261 188l7 -7M263 183.5h7M266.5 180v7M263 180l7 7M263 187l7 -7M266 182.5h7M269.5 179v7M266 179l7 7M266 186l7 -7M269 181.5h7M272.5 178v7M269 178l7 7M269 185l7 -7M272 180.5h7M275.5 177v7M272 177l7 7M272 184l7 -7M276 179.5h7M279.5 176v7M276 176l7 7M276 183l7 -7M293 178.5h7M296.5 175v7M293 175l7 7M293 182l7 -7M300 177.5h7M303.5 174v7M300 174l7 7M300 181l7 -7M299 176.5h7M302.5 173v7M299 173l7 7M299 180l7 -7M302 175.5h7M305.5 172v7M302 172l7 7M302 179l7 -7M304 174.5h7M307.5 171v7M304 171l7 7M304 178l7 -7M308 173.5h7M311.5 170v7M308 170l7 7M308 177l7 -7M308 172.5h7M311.5 169v7M308 169l7 7M308 176l7 -7M311 171.5h7M314.5 168v7M311 168l7 7M311 175l7 -7M312 170.5h7M315.5 167v7M312 167l7 7M312 174l7 -7M316 169.5h7M319.5 166v7M316 166l7 7M316 173l7 -7M318 168.5h7M321.5 165v7M318 165l7 7M318 172l7 -7M322 167.5h7M325.5 164v7M322 164l7 7M322 171l7 -7M325 166.5h7M328.5 163v7M325 163l7 7M325 170l7 -7M327 165.5h7M330.5 162v7M327 162l7 7M327 169l7 -7M330 164.5h7M333.5 161v7M330 161l7 7M330 168l7 -7M330 163.5h7M333.5 160v7M330 160l7 7M330 167l7 -7M333 162.5h7M336.5 159v7M333 159l7 7M333 166l7 -7M334 161.5h7M337.5 158v7M334 158l7 7M334 165l7 -7M337 160.5h7M340.5 157v7M337 157l7 7M337 164l7 -7M339 159.5h7M342.5 156v7M339 156l7 7M339 163l7 -7M342 158.5h7M345.5 155v7M342 155l7 7M342 162l7 -7M344 157.5h7M347.5 154v7M344 154l7 7M344 161l7 -7M347 156.5h7M350.5 153v7M347 153l7 7M347 160l7 -7M347 155.5h7M350.5 152v7M347 152l7 7M347 159l7 -7M350 154.5h7M353.5 151v7M350 151l7 7M350 158l7 -7M352 153.5h7M355.5 150v7M352 150l7 7M352 157l7 -7M360 152.5h7M363.5 149v7M360 149l7 7M360 156l7 -7M366 151.5h7M369.5 148v7M366 148l7 7M366 155l7 -7M369 150.5h7M372.5 147v7M369 147l7 7M369 154l7 -7M373 149.5h7M376.5 146v7M373 146l7 7M373 153l7 -7M382 148.5h7M385.5 145v7M382 145l7 7M382 152l7 -7M385 147.5h7M388.5 144v7M385 144l7 7M385 151l7 -7M389 146.5h7M392.5 143v7M389 143l7 7M389 150l7 -7M395 145.5h7M398.5 142v7M395 142l7 7M395 149l7 -7M400 144.5h7M403.5 141v7M400 141l7 7M400 148l7 -7M403 143.5h7M406.5 140v7M403 140l7 7M403 147l7 -7M404 142.5h7M407.5 139v7M404 139l7 7M404 146l7 -7M409 141.5h7M412.5 138v7M409 138l7 7M409 145l7 -7M411 140.5h7M414.5 137v7M411 137l7 7M411 144l7 -7M413 139.5h7M416.5 136v7M413 136l7 7M413 143l7 -7M414 137.5h7M417.5 134v7M414 134l7 7M414 141l7 -7M419 136.5h7M422.5 133v7M419 133l7 7M419 140l7 -7M423 135.5h7M426.5 132v7M423 132l7 7M423 139l7 -7M424 134.5h7M427.5 131v7M424 131l7 7M424 138l7 -7M432 133.5h7M435.5 130v7M432 130l7 7M432 137l7 -7M433 132.5h7M436.5 129v7M433 129l7 7M433 136l7 -7M437 131.5h7M440.5 128v7M437 128l7 7M437 135l7 -7M438 130.5h7M441.5 127v7M438 127l7 7M438 134l7 -7M443 129.5h7M446.5 126v7M443 126l7 7M443 133l7 -7M452 128.5h7M455.5 125v7M452 125l7 7M452 132l7 -7M455 127.5h7M458.5 124v7M455 124l7 7M455 131l7 -7M455 126.5h7M458.5 123v7M455 123l7 7M455 130l7 -7M458 125.5h7M461.5 122v7M458 122l7 7M458 129l7 -7M459 124.5h7M462.5 121v7M459 121l7 7M459 128l7 -7M461 123.5h7M464.5 120v7M461 120l7 7M461 127l7 -7M463 122.5h7M466.5 119v7M463 119l7 7M463 126l7 -7M471 121.5h7M474.5 118v7M471 118l7 7M471 125l7 -7M478 120.5h7M481.5 117v7M478 117l7 7M478 124l7 -7M478 119.5h7M481.5 116v7M478 116l7 7M478 123l7 -7M479 118.5h7M482.5 115v7M479 115l7 7M479 122l7 -7M479 117.5h7M482.5 114v7M479 114l7 7M479 121l7 -7M481 116.5h7M484.5 113v7M481 113l7 7M481 120l7 -7M480 115.5h7M483.5 112v7M480 112l7 7M480 119l7 -7M481 114.5h7M484.5 111v7M481 111l7 7M481 118l7 -7M481 113.5h7M484.5 110v7M481 110l7 7M481 117l7 -7M483 112.5h7M486.5 109v7M483 109l7 7M483 116l7 -7M483 111.5h7M486.5 108v7M483 108l7 7M483 115l7 -7M484 110.5h7M487.5 107v7M484 107l7 7M484 114l7 -7M484 109.5h7M487.5 106v7M484 106l7 7M484 113l7 -7M486 108.5h7M489.5 105v7M486 105l7 7M486 112l7 -7M486 107.5h7M489.5 104v7M486 104l7 7M486 111l7 -7M487 106.5h7M490.5 103v7M487 103l7 7M487 110l7 -7M489 105.5h7M492.5 102v7M489 102l7 7M489 109l7 -7M489 104.5h7M492.5 101v7M489 101l7 7M489 108l7 -7M491 103.5h7M494.5 100v7M491 100l7 7M491 107l7 -7M491 102.5h7M494.5 99v7M491 99l7 7M491 106l7 -7M493 101.5h7M496.5 98v7M493 98l7 7M493 105l7 -7M497 100.5h7M500.5 97v7M497 97l7 7M497 104l7 -7M507 99.5h7M510.5 96v7M507 96l7 7M507 103l7 -7M506 98.5h7M509.5 95v7M506 95l7 7M506 102l7 -7M510 97.5h7M513.5 94v7M510 94l7 7M510 101l7 -7M512 96.5h7M515.5 93v7M512 93l7 7M512 100l7 -7M515 95.5h7M518.5 92v7M515 92l7 7M515 99l7 -7M515 94.5h7M518.5 91v7M515 91l7 7M515 98l7 -7M517 93.5h7M520.5 90v7M517 90l7 7M517 97l7 -7M518 92.5h7M521.5 89v7M518 89l7 7M518 96l7 -7M520 91.5h7M523.5 88v7M520 88l7 7M520 95l7 -7M522 90.5h7M525.5 87v7M522 87l7 7M522 94l7 -7M523 89.5h7M526.5 86v7M523 86l7 7M523 93l7 -7M525 88.5h7M528.5 85v7M525 85l7 7M525 92l7 -7M525 87.5h7M528.5 84v7M525 84l7 7M525 91l7 -7M527 86.5h7M530.5 83v7M527 83l7 7M527 90l7 -7M527 85.5h7M530.5 82v7M527 82l7 7M527 89l7 -7M529 84.5h7M532.5 81v7M529 81l7 7M529 88l7 -7M530 83.5h7M533.5 80v7M530 80l7 7M530 87l7 -7M531 82.5h7M534.5 79v7M531 79l7 7M531 86l7 -7M531 81.5h7M534.5 78v7M531 78l7 7M531 85l7 -7M534 80.5h7M537.5 77v7M534 77l7 7M534 84l7 -7M534 79.5h7M537.5 76v7M534 76l7 7M534 83l7 -7M535 78.5h7M538.5 75v7M535 75l7 7M535 82l7 -7M536 77.5h7M539.5 74v7M536 74l7 7M536 81l7 -7M538 76.5h7M541.5 73v7M538 73l7 7M538 80l7 -7M540 75.5h7M543.5 72v7M540 72l7 7M540 79l7 -7M540 74.5h7M543.5 71v7M540 71l7 7M540 78l7 -7M542 73.5h7M545.5 70v7M542 70l7 7M542 77l7 -7M542 72.5h7M545.5 69v7M542 69l7 7M542 76l7 -7M544 71.5h7M547.5 68v7M544 68l7 7M544 75l7 -7M545 70.5h7M548.5 67v7M545 67l7 7M545 74l7 -7M547 69.5h7M550.5 66v7M547 66l7 7M547 73l7 -7M547 68.5h7M550.5 65v7M547 65l7 7M547 72l7 -7M549 67.5h7M552.5 64v7M549 64l7 7M549 71l7 -7M549 66.5h7M552.5 63v7M549 63l7 7M549 70l7 -7M551 65.5h7M554.5 62v7M551 62l7 7M551 69l7 -7M552 64.5h7M555.5 61v7M552 61l7 7M552 68l7 -7M554 63.5h7M557.5 60v7M554 60l7 7M554 67l7 -7M554 62.5h7M557.5 59v7M554 59l7 7M554 66l7 -7M556 61.5h7M559.5 58v7M556 58l7 7M556 65l7 -7M558 60.5h7M561.5 57v7M558 57l7 7M558 64l7 -7M559 59.5h7M562.5 56v7M559 56l7 7M559 63l7 -7M561 58.5h7M564.5 55v7M561 55l7 7M561 62l7 -7M562 57.5h7M565.5 54v7M562 54l7 7M562 61l7 -7"/>
<path stroke="#c000ff" d="M72.5 440.5 L72.5 430.5 L76.5 426.5 L76.5 420.5 L89.5 411.5 L89.5 407.5 L92.5 405.5 L92.5 401.5 L94.5 400.5 L94.5 383.5 L97.5 382.5 L97.5 371.5 L100.5 369.5 L100.5 361.5 L103.5 355.5 L106.5 353.5 L106.5 347.5 L108.5 346.5 L108.5 341.5 L110.5 340.5 L111.5 333.5 L114.5 328.5 L117.5 328.5 L118.5 322.5 L120.5 320.5 L120.5 315.5 L123.5 310.5 L126.5 308.5 L127.5 302.5 L129.5 300.5 L129.5 294.5 L132.5 292.5 L133.5 287.5 L135.5 286.5 L135.5 282.5 L138.5 281.5 L143.5 280.5 L150.5 276.5 L155.5 275.5 L162.5 274.5 L164.5 270.5 L167.5 269.5 L167.5 265.5 L170.5 264.5 L171.5 258.5 L173.5 255.5 L176.5 253.5 L182.5 251.5 L183.5 248.5 L187.5 245.5 L191.5 241.5 L193.5 240.5 L198.5 239.5 L202.5 237.5 L204.5 233.5 L206.5 231.5 L207.5 229.5 L210.5 226.5 L212.5 223.5 L219.5 221.5 L222.5 218.5 L227.5 217.5 L236.5 215.5 L238.5 214.5 L242.5 213.5 L247.5 211.5 L251.5 209.5 L255.5 208.5 L260.5 207.5 L269.5 204.5 L272.5 202.5 L279.5 199.5 L287.5 198.5 L302.5 197.5 L307.5 195.5 L310.5 195.5 L330.5 189.5 L335.5 186.5 L337.5 185.5 L340.5 183.5 L346.5 181.5 L353.5 179.5 L358.5 176.5 L365.5 175.5 L374.5 174.5 L382.5 172.5 L391.5 171.5 L401.5 169.5 L408.5 168.5 L415.5 167.5 L418.5 167.5 L420.5 165.5 L429.5 163.5 L437.5 161.5 L443.5 160.5 L452.5 158.5 L460.5 156.5 L461.5 154.5 L472.5 154.5 L473.5 153.5 L483.5 152.5 L487.5 148.5 L489.5 143.5 L495.5 141.5 L495.5 139.5 L498.5 136.5 L500.5 135.5 L506.5 134.5 L513.5 133.5 L517.5 131.5 L521.5 130.5 L523.5 129.5 L532.5 124.5 L538.5 120.5 L542.5 116.5 L550.5 114.5 L553.5 110.5 L559.5 105.5 L563.5 102.5 L565.5 100.5"/>
</g>
<g fill="none" stroke-width="1" shape-rendering="crispEdges">
<path stroke="#ff0000" d="M163 48.5H192M174 48.5h7M177.5 45v7"/>
<path stroke="#00c000" d="M163 61.5H192M174 58l7 7M174 65l7 -7"/>
<path stroke="#0080ff" d="M163 74.5H192M174 74.5h7M177.5 71v7M174 71l7 7M174 78l7 -7"/>
<path stroke="#c000ff" d="M163 87.5H192"/>
</g>
<path d="M55.5 38.5H621.5V440.5H55.5ZM55 440.5h5M622 440.5h-5M55 435.5h3M622 435.5h-3M55 430.5h3M622 430.5h-3M55 425.5h3M622 425.5h-3M55 420.5h3M622 420.5h-3M55 415.5h3M622 415.5h-3M55 410.5h3M622 410.5h-3M55 405.5h3M622 405.5h-3M55 400.5h3M622 400.5h-3M55 395.5h3M622 395.5h-3M55 390.5h5M622 390.5h-5M55 385.5h3M622 385.5h-3M55 380.5h3M622 380.5h-3M55 375.5h3M622 375.5h-3M55 370.5h3M622 370.5h-3M55 365.5h3M622 365.5h-3M55 360.5h3M622 360.5h-3M55 355.5h3M622 355.5h-3M55 350.5h3M622 350.5h-3M55 345.5h3M622 345.5h-3M55 340.5h5M622 340.5h-5M55 334.5h3M622 334.5h-3M55 329.5h3M622 329.5h-3M55 324.5h3M622 324.5h-3M55 319.5h3M622 319.5h-3M55 314.5h3M622 314.5h-3M55 309.5h3M622 309.5h-3M55 304.5h3M622 304.5h-3M55 299.5h3M622 299.5h-3M55 294.5h3M622 294.5h-3M55 289.5h5M622 289.5h-5M55 284.5h3M622 284.5h-3M55 279.5h3M622 279.5h-3M55 274.5h3M622 274.5h-3M55 269.5h3M622 269.5h-3M55 264.5h3M622 264.5h-3M55 259.5h3M622 259.5h-3M55 254.5h3M622 254.5h-3M55 249.5h3M622 249.5h-3M55 244.5h3M622 244.5h-3M55 239.5h5M622 239.5h-5M55 234.5h3M622 234.5h-3M55 229.5h3M622 229.5h-3M55 224.5h3M622 224.5h-3M55 219.5h3M622 219.5h-3M55 214.5h3M622 214.5h-3M55 209.5h3M622 209.5h-3M55 204.5h3M622 204.5h-3M55 199.5h3M622 199.5h-3M55 194.5h3M622 194.5h-3M55 189.5h5M622 189.5h-5M55 184.5h3M622 184.5h-3M55 179.5h3M622 179.5h-3M55 174.5h3M622 174.5h-3M55 169.5h3M622 169.5h-3M55 164.5h3M622 164.5h-3M55 159.5h3M622 159.5h-3M55 154.5h3M622 154.5h-3M55 149.5h3M622 149.5h-3M55 144.5h3M622 144.5h-3M55 139.5h5M622 139.5h-5M55 133.5h3M622 133.5h-3M55 128.5h3M622 128.5h-3M55 123.5h3M622 123.5h-3M55 118.5h3M622 118.5h-3M55 113.5h3M622 113.5h-3M55 108.5h3M622 108.5h-3M55 103.5h3M622 103.5h-3M55 98.5h3M622 98.5h-3M55 93.5h3M622 93.5h-3M55 88.5h5M622 88.5h-5M55 83.5h3M622 83.5h-3M55 78.5h3M622 78.5h-3M55 73.5h3M622 73.5h-3M55 68.5h3M622 68.5h-3M55 63.5h3M622 63.5h-3M55 58.5h3M622 58.5h-3M55 53.5h3M622 53.5h-3M55 48.5h3M622 48.5h-3M55 43.5h3M622 43.5h-3M55 38.5h5M622 38.5h-5M55.5 441v-5M55.5 38v5M58.5 441v-3M58.5 38v3M61.5 441v-3M61.5 38v3M64.5 441v-3M64.5 38v3M67.5 441v-3M67.5 38v3M70.5 441v-3M70.5 38v3M73.5 441v-3M73.5 38v3M76.5 441v-3M76.5 38v3M79.5 441v-3M79.5 38v3M82.5 441v-3M82.5 38v3M84.5 441v-3M84.5 38v3M87.5 441v-3M87.5 38v3M90.5 441v-3M90.5 38v3M93.5 441v-3M93.5 38v3M96.5 441v-3M96.5 38v3M99.5 441v-3M99.5 38v3M102.5 441v-3M102.5 38v3M105.5 441v-3M105.5 38v3M108.5 441v-3M108.5 38v3M111.5 441v-3M111.5 38v3M114.5 441v-3M114.5 38v3M117.5 441v-3M117.5 38v3M120.5 441v-3M120.5 38v3M123.5 441v-3M123.5 38v3M126.5 441v-5M126.5 38v5M129.5 441v-3M129.5 38v3M132.5 441v-3M132.5 38v3M135.5 441v-3M135.5 38v3M138.5 441v-3M138.5 38v3M140.5 441v-3M140.5 38v3M143.5 441v-3M143.5 38v3M146.5 441v-3M146.5 38v3M149.5 441v-3M149.5 38v3M152.5 441v-3M152.5 38v3M155.5 441v-3M155.5 38v3M158.5 441v-3M158.5 38v3M161.5 441v-3M161.5 38v3M164.5 441v-3M164.5 38v3M167.5 441v-3M167.5 38v3M170.5 441v-3M170.5 38v3M173.5 441v-3M173.5 38v3M176.5 441v-3M176.5 38v3M179.5 441v-3M179.5 38v3M182.5 441v-3M182.5 38v3M185.5 441v-3M185.5 38v3M188.5 441v-3M188.5 38v3M191.5 441v-3M191.5 38v3M194.5 441v-3M194.5 38v3M197.5 441v-5M197.5 38v5M199.5 441v-3M199.5 38v3M202.5 441v-3M202.5 38v3M205.5 441v-3M205.5 38v3M208.5 441v-3M208.5 38v3M211.5 441v-3M211.5 38v3M214.5 441v-3M214.5 38v3M217.5 441v-3M217.5 38v3M220.5 441v-3M220.5 38v3M223.5 441v-3M223.5 38v3M226.5 441v-3M226.5 38v3M229.5 441v-3M229.5 38v3M232.5 441v-3M232.5 38v3M235.5 441v-3M235.5 38v3M238.5 441v-3M238.5 38v3M241.5 441v-3M241.5 38v3M244.5 441v-3M244.5 38v3M247.5 441v-3M247.5 38v3M250.5 441v-3M250.5 38v3M253.5 441v-3M253.5 38v3M255.5 441v-3M255.5 38v3M258.5 441v-3M258.5 38v3M261.5 441v-3M261.5 38v3M264.5 441v-3M264.5 38v3M267.5 441v-5M267.5 38v5M270.5 441v-3M270.5 38v3M273.5 441v-3M273.5 38v3M276.5 441v-3M276.5 38v3M279.5 441v-3M279.5 38v3M282.5 441v-3M282.5 38v3M285.5 441v-3M285.5 38v3M288.5 441v-3M288.5 38v3M291.5 441v-3M291.5 38v3M294.5 441v-3M294.5 38v3M297.5 441v-3M297.5 38v3M300.5 441v-3M300.5 38v3M303.5 441v-3M303.5 38v3M306.5 441v-3M306.5 38v3M309.5 441v-3M309.5 38v3M311.5 441v-3M311.5 38v3M314.5 441v-3M314.5 38v3M317.5 441v-3M317.5 38v3M320.5 441v-3M320.5 38v3M323.5 441v-3M323.5 38v3M326.5 441v-3M326.5 38v3M329.5 441v-3M329.5 38v3M332.5 441v-3M332.5 38v3M335.5 441v-3M335.5 38v3M338.5 441v-5M338.5 38v5M341.5 441v-3M341.5 38v3M344.5 441v-3M344.5 38v3M347.5 441v-3M347.5 38v3M350.5 441v-3M350.5 38v3M353.5 441v-3M353.5 38v3M356.5 441v-3M356.5 38v3M359.5 441v-3M359.5 38v3M362.5 441v-3M362.5 38v3M365.5 441v-3M365.5 38v3M367.5 441v-3M367.5 38v3M370.5 441v-3M370.5 38v3M373.5 441v-3M373.5 38v3M376.5 441v-3M376.5 38v3M379.5 441v-3M379.5 38v3M382.5 441v-3M382.5 38v3M385.5 441v-3M385.5 38v3M388.5 441v-3M388.5 38v3M391.5 441v-3M391.5 38v3M394.5 441v-3M394.5 38v3M397.5 441v-3M397.5 38v3M400.5 441v-3M400.5 38v3M403.5 441v-3M403.5 38v3M406.5 441v-3M406.5 38v3M409.5 441v-5M409.5 38v5M412.5 441v-3M412.5 38v3M415.5 441v-3M415.5 38v3M418.5 441v-3M418.5 38v3M421.5 441v-3M421.5 38v3M423.5 441v-3M423.5 38v3M426.5 441v-3M426.5 38v3M429.5 441v-3M429.5 38v3M432.5 441v-3M432.5 38v3M435.5 441v-3M435.5 38v3M438.5 441v-3M438.5 38v3M441.5 441v-3M441.5 38v3M444.5 441v-3M444.5 38v3M447.5 441v-3M447.5 38v3M450.5 441v-3M450.5 38v3M453.5 441v-3M453.5 38v3M456.5 441v-3M456.5 38v3M459.5 441v-3M459.5 38v3M462.5 441v-3M462.5 38v3M465.5 441v-3M465.5 38v3M468.5 441v-3M468.5 38v3M471.5 441v-3M471.5 38v3M474.5 441v-3M474.5 38v3M477.5 441v-3M477.5 38v3M480.5 441v-5M480.5 38v5M482.5 441v-3M482.5 38v3M485.5 441v-3M485.5 38v3M488.5 441v-3M488.5 38v3M491.5 441v-3M491.5 38v3M494.5 441v-3M494.5 38v3M497.5 441v-3M497.5 38v3M500.5 441v-3M500.5 38v3M503.5 441v-3M503.5 38v3M506.5 441v-3M506.5 38v3M509.5 441v-3M509.5 38v3M512.5 441v-3M512.5 38v3M515.5 441v-3M515.5 38v3M518.5 441v-3M518.5 38v3M521.5 441v-3M521.5 38v3M524.5 441v-3M524.5 38v3M527.5 441v-3M527.5 38v3M530.5 441v-3M530.5 38v3M533.5 441v-3M533.5 38v3M536.5 441v-3M536.5 38v3M538.5 441v-3M538.5 38v3M541.5 441v-3M541.5 38v3M544.5 441v-3M544.5 38v3M547.5 441v-3M547.5 38v3M550.5 441v-5M550.5 38v5M553.5 441v-3M553.5 38v3M556.5 441v-3M556.5 38v3M559.5 441v-3M559.5 38v3M562.5 441v-3M562.5 38v3M565.5 441v-3M565.5 38v3M568.5 441v-3M568.5 38v3M571.5 441v-3M571.5 38v3M574.5 441v-3M574.5 38v3M577.5 441v-3M577.5 38v3M580.5 441v-3M580.5 38v3M583.5 441v-3M583.5 38v3M586.5 441v-3M586.5 38v3M589.5 441v-3M589.5 38v3M592.5 441v-3M592.5 38v3M594.5 441v-3M594.5 38v3M597.5 441v-3M597.5 38v3M600.5 441v-3M600.5 38v3M603.5 441v-3M603.5 38v3M606.5 441v-3M606.5 38v3M609.5 441v-3M609.5 38v3M612.5 441v-3M612.5 38v3M615.5 441v-3M615.5 38v3M618.5 441v-3M618.5 38v3M621.5 441v-5M621.5 38v5" fill="none" stroke="#000" stroke-width="1" shape-rendering="crispEdges"/>
<g font-family="'DejaVu Sans Mono', 'Liberation Mono', monospace" font-size="10px" fill="#000">
<text transform="translate(337.2 23) scale(0.9967 1)" text-anchor="middle">General Resolution: Re-affirm support to the Debian Project Leader</text>
<text class="n" x="42.1" y="445">0</text>
<text class="n" x="36.1 42.1" y="395">50</text>
<text class="n" x="30.1 36.1 42.1" y="345">100</text>
<text class="n" x="30.1 36.1 42.1" y="294">150</text>
<text class="n" x="30.1 36.1 42.1" y="244">200</text>
<text class="n" x="30.1 36.1 42.1" y="194">250</text>
<text class="n" x="30.1 36.1 42.1" y="144">300</text>
<text class="n" x="30.1 36.1 42.1" y="93">350</text>
<text class="n" x="30.1 36.1 42.1" y="43">400</text>
<text class="n" x="39.1 45.1 52.6 57.1 63.1" y="458">10/08</text>
<text class="n" x="39.1 45.1 52.6 57.1 63.1" y="471">00:00</text>
<text class="n" x="110.1 116.1 123.6 128.1 134.1" y="458">10/09</text>
<text class="n" x="110.1 116.1 123.6 128.1 134.1" y="471">00:00</text>
<text class="n" x="181.1 187.1 194.6 199.1 205.1" y="458">10/10</text>
<text class="n" x="181.1 187.1 194.6 199.1 205.1" y="471">00:00</text>
<text class="n" x="251.1 257.1 264.6 269.1 275.1" y="458">10/11</text>
<text class="n" x="251.1 257.1 264.6 269.1 275.1" y="471">00:00</text>
<text class="n" x="322.1 328.1 335.6 340.1 346.1" y="458">10/12</text>
<text class="n" x="322.1 328.1 335.6 340.1 346.1" y="471">00:00</text>
<text class="n" x="393.1 399.1 406.6 411.1 417.1" y="458">10/13</text>
<text class="n" x="393.1 399.1 406.6 411.1 417.1" y="471">00:00</text>
<text class="n" x="464.1 470.1 477.6 482.1 488.1" y="458">10/14</text>
<text class="n" x="464.1 470.1 477.6 482.1 488.1" y="471">00:00</text>
<text class="n" x="534.1 540.1 547.6 552.1 558.1" y="458">10/15</text>
<text class="n" x="534.1 540.1 547.6 552.1 558.1" y="471">00:00</text>
<text class="n" x="605.1 611.1 618.6 623.1 629.1" y="458">10/16</text>
<text class="n" x="605.1 611.1 618.6 623.1 629.1" y="471">00:00</text>
<text transform="translate(337.2 477) scale(0.9967 1)" text-anchor="middle">Date/Time (UTC)</text>
<text transform="translate(17 241) rotate(-90) scale(0.9967 1)" text-anchor="middle">Ballots</text>
<text transform="translate(156.2 53) scale(0.9967 1)" text-anchor="end">Rejected Ballots</text>
<text transform="translate(156.2 66) scale(0.9967 1)" text-anchor="end">Vote Tallied,</text>
<text transform="translate(156.2 79) scale(0.9967 1)" text-anchor="end">Received Ballots</text>
<text transform="translate(156.2 92) scale(0.9967 1)" text-anchor="end">Acknowledgements</text>
</g>
</svg>
</body>
</html>
